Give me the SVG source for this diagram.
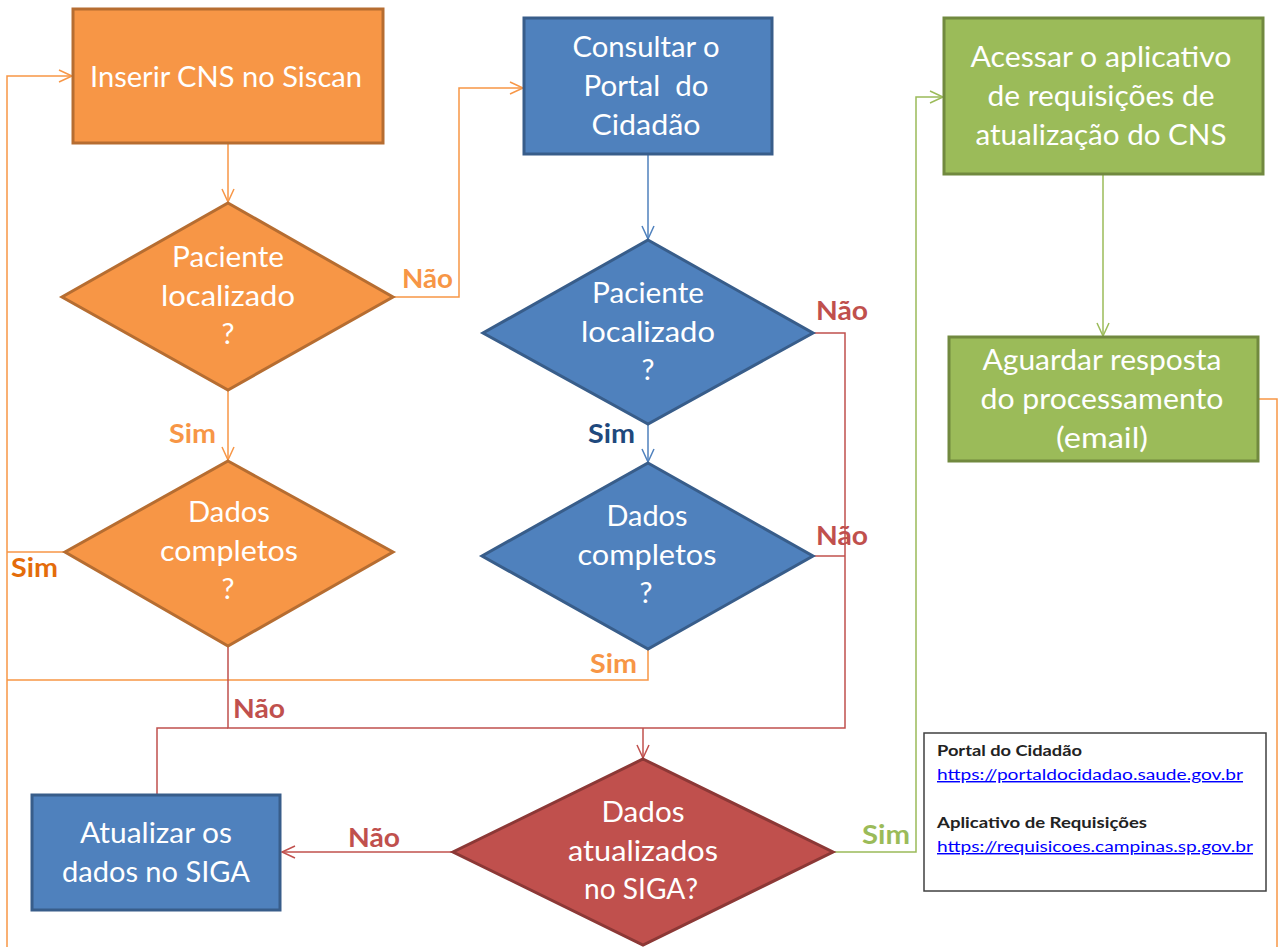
<svg xmlns="http://www.w3.org/2000/svg" width="1279" height="947" viewBox="0 0 1279 947">
<style>
.t{font-family:Lato,"Open Sans","Noto Sans",sans-serif;font-size:29px;fill:#fff;text-anchor:middle;white-space:pre}
.lb{font-family:Lato,"Open Sans","Noto Sans",sans-serif;font-size:26px;font-weight:bold}
.lg{font-family:Lato,"Open Sans","Noto Sans",sans-serif;font-size:14.5px}
.c{fill:none;stroke-width:1.5}
.or{stroke:#F79646}.rd{stroke:#C0504D}.bl{stroke:#4F81BD}.gr{stroke:#9BBB59}
.ob{fill:#F79646;stroke:#B66D31;stroke-width:3}
.bb{fill:#4F81BD;stroke:#385D8A;stroke-width:3}
.gb{fill:#9BBB59;stroke:#71893F;stroke-width:3}
.rb{fill:#C0504D;stroke:#8C3836;stroke-width:3}
</style>
<defs>
<marker id="aO" markerUnits="userSpaceOnUse" markerWidth="16" markerHeight="16" refX="14" refY="7" orient="auto"><path d="M1,1 L14,7 L1,13" fill="none" stroke="#F79646" stroke-width="1.5"/></marker>
<marker id="aR" markerUnits="userSpaceOnUse" markerWidth="16" markerHeight="16" refX="14" refY="7" orient="auto"><path d="M1,1 L14,7 L1,13" fill="none" stroke="#C0504D" stroke-width="1.5"/></marker>
<marker id="aB" markerUnits="userSpaceOnUse" markerWidth="16" markerHeight="16" refX="14" refY="7" orient="auto"><path d="M1,1 L14,7 L1,13" fill="none" stroke="#4F81BD" stroke-width="1.5"/></marker>
<marker id="aG" markerUnits="userSpaceOnUse" markerWidth="16" markerHeight="16" refX="14" refY="7" orient="auto"><path d="M1,1 L14,7 L1,13" fill="none" stroke="#9BBB59" stroke-width="1.5"/></marker>
</defs>
<rect width="1279" height="947" fill="#fff"/>
<g id="connectors">
<path class="c or" d="M7,947 V76 H72" marker-end="url(#aO)"/>
<path class="c or" d="M65,552 H7"/>
<path class="c or" d="M648,649 V680 H7"/>
<path class="c or" d="M228,143 V202" marker-end="url(#aO)"/>
<path class="c or" d="M393,297 H459 V88 H523" marker-end="url(#aO)"/>
<path class="c or" d="M228,390 V460" marker-end="url(#aO)"/>
<path class="c bl" d="M648,154 V239" marker-end="url(#aB)"/>
<path class="c bl" d="M648,424 V462" marker-end="url(#aB)"/>
<path class="c rd" d="M228,646 V728 H643"/>
<path class="c rd" d="M813,333 H845 V728 H643"/>
<path class="c rd" d="M813,556 H845"/>
<path class="c rd" d="M157,795 V728 H228"/>
<path class="c rd" d="M643,728 V758" marker-end="url(#aR)"/>
<path class="c rd" d="M453,852 H282" marker-end="url(#aR)"/>
<path class="c gr" d="M833,852 H916 V97 H943" marker-end="url(#aG)"/>
<path class="c gr" d="M1103,174 V336" marker-end="url(#aG)"/>
<path class="c or" d="M1258,399 H1277 V947"/>
</g>
<g id="labels">
<text class="lb" x="402" y="288" fill="#F79646" textLength="51" lengthAdjust="spacingAndGlyphs">Não</text>
<text class="lb" x="169" y="443" fill="#F79646" textLength="47" lengthAdjust="spacingAndGlyphs">Sim</text>
<text class="lb" x="588" y="443" fill="#1F497D" textLength="47" lengthAdjust="spacingAndGlyphs">Sim</text>
<text class="lb" x="11" y="577" fill="#E46C0A" textLength="47" lengthAdjust="spacingAndGlyphs">Sim</text>
<text class="lb" x="816" y="320" fill="#C0504D" textLength="52" lengthAdjust="spacingAndGlyphs">Não</text>
<text class="lb" x="816" y="545" fill="#C0504D" textLength="52" lengthAdjust="spacingAndGlyphs">Não</text>
<text class="lb" x="590" y="673" fill="#F79646" textLength="47" lengthAdjust="spacingAndGlyphs">Sim</text>
<text class="lb" x="233" y="718" fill="#C0504D" textLength="52" lengthAdjust="spacingAndGlyphs">Não</text>
<text class="lb" x="348" y="847" fill="#C0504D" textLength="52" lengthAdjust="spacingAndGlyphs">Não</text>
<text class="lb" x="862" y="844" fill="#9BBB59" textLength="48" lengthAdjust="spacingAndGlyphs">Sim</text>
</g>
<g id="inserir">
<rect class="ob" x="73" y="9" width="310" height="134"/>
<text class="t" x="226" y="87" textLength="272" lengthAdjust="spacingAndGlyphs">Inserir CNS no Siscan</text>
</g>
<g id="consultar">
<rect class="bb" x="524" y="18" width="248" height="136"/>
<text class="t" x="646" y="57" textLength="147" lengthAdjust="spacingAndGlyphs">Consultar o</text>
<text class="t" x="646" y="96" textLength="125" lengthAdjust="spacingAndGlyphs">Portal  do</text>
<text class="t" x="646" y="135" textLength="109" lengthAdjust="spacingAndGlyphs">Cidadão</text>
</g>
<g id="pac1">
<polygon class="ob" points="228,203 393,297 228,390 62,297"/>
<text class="t" x="228" y="267" textLength="112" lengthAdjust="spacingAndGlyphs">Paciente</text>
<text class="t" x="228" y="306" textLength="134" lengthAdjust="spacingAndGlyphs">localizado</text>
<text class="t" x="228" y="344">?</text>
</g>
<g id="dados1">
<polygon class="ob" points="228,461 393,552 228,646 65,552"/>
<text class="t" x="229" y="522" textLength="82" lengthAdjust="spacingAndGlyphs">Dados</text>
<text class="t" x="229" y="561" textLength="138" lengthAdjust="spacingAndGlyphs">completos</text>
<text class="t" x="228" y="599">?</text>
</g>
<g id="pac2">
<polygon class="bb" points="648,240 813,333 648,424 483,333"/>
<text class="t" x="648" y="303" textLength="112" lengthAdjust="spacingAndGlyphs">Paciente</text>
<text class="t" x="648" y="342" textLength="134" lengthAdjust="spacingAndGlyphs">localizado</text>
<text class="t" x="648" y="380">?</text>
</g>
<g id="dados2">
<polygon class="bb" points="648,463 813,556 648,649 482,556"/>
<text class="t" x="647" y="526" textLength="81" lengthAdjust="spacingAndGlyphs">Dados</text>
<text class="t" x="647" y="565" textLength="139" lengthAdjust="spacingAndGlyphs">completos</text>
<text class="t" x="646" y="603">?</text>
</g>
<g id="atualizados">
<polygon class="rb" points="643,759 833,852 643,945 453,852"/>
<text class="t" x="643" y="822" textLength="83" lengthAdjust="spacingAndGlyphs">Dados</text>
<text class="t" x="643" y="861" textLength="150" lengthAdjust="spacingAndGlyphs">atualizados</text>
<text class="t" x="641" y="899" textLength="114" lengthAdjust="spacingAndGlyphs">no SIGA?</text>
</g>
<g id="atualizar">
<rect class="bb" x="32" y="795" width="248" height="115"/>
<text class="t" x="156" y="843" textLength="152" lengthAdjust="spacingAndGlyphs">Atualizar os</text>
<text class="t" x="156" y="882" textLength="188" lengthAdjust="spacingAndGlyphs">dados no SIGA</text>
</g>
<g id="acessar">
<rect class="gb" x="944" y="18" width="319" height="156"/>
<text class="t" x="1101" y="67" textLength="261" lengthAdjust="spacingAndGlyphs">Acessar o aplicativo</text>
<text class="t" x="1101" y="106" textLength="227" lengthAdjust="spacingAndGlyphs">de requisições de</text>
<text class="t" x="1101" y="145" textLength="251" lengthAdjust="spacingAndGlyphs">atualização do CNS</text>
</g>
<g id="aguardar">
<rect class="gb" x="949" y="337" width="309" height="124"/>
<text class="t" x="1102" y="370" textLength="239" lengthAdjust="spacingAndGlyphs">Aguardar resposta</text>
<text class="t" x="1102" y="409" textLength="243" lengthAdjust="spacingAndGlyphs">do processamento</text>
<text class="t" x="1102" y="448" textLength="92" lengthAdjust="spacingAndGlyphs">(email)</text>
</g>
<g id="legenda">
<rect x="924" y="733" width="342" height="158" fill="#fff" stroke="#404040" stroke-width="1.5"/>
<text class="lg" x="937" y="756" font-weight="bold" fill="#222" textLength="145" lengthAdjust="spacingAndGlyphs">Portal do Cidadão</text>
<text class="lg" x="937" y="780" fill="#0000FF" text-decoration="underline" textLength="306" lengthAdjust="spacingAndGlyphs">https://portaldocidadao.saude.gov.br</text>
<text class="lg" x="937" y="828" font-weight="bold" fill="#222" textLength="210" lengthAdjust="spacingAndGlyphs">Aplicativo de Requisições</text>
<text class="lg" x="937" y="852" fill="#0000FF" text-decoration="underline" textLength="316" lengthAdjust="spacingAndGlyphs">https://requisicoes.campinas.sp.gov.br</text>
</g>
</svg>
